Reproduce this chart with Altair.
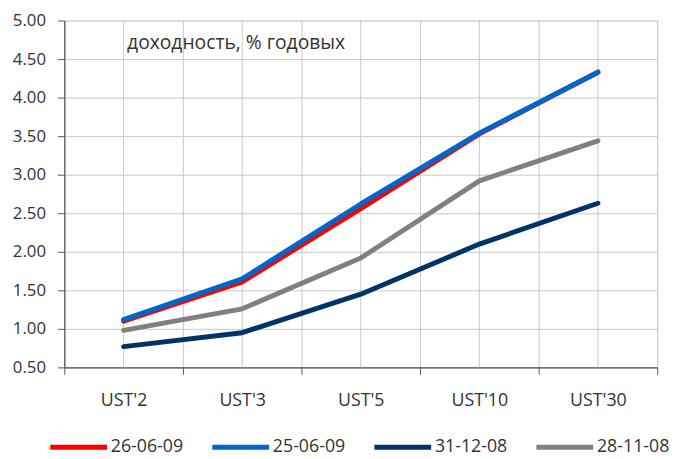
import altair as alt
import pandas as pd

categories = ["UST'2", "UST'3", "UST'5", "UST'10", "UST'30"]
series_names = ["26-06-09", "25-06-09", "31-12-08", "28-11-08"]
s_260609 = [1.10, 1.61, 2.56, 3.53, 4.33]
s_250609 = [1.12, 1.65, 2.62, 3.54, 4.33]
s_311208 = [0.77, 0.95, 1.45, 2.10, 2.63]
s_281108 = [0.98, 1.26, 1.92, 2.92, 3.44]
colors = ["#ff0000", "#0066cc", "#003366", "#808080"]
y_ticks = [0.5, 1.0, 1.5, 2.0, 2.5, 3.0, 3.5, 4.0, 4.5, 5.0]

rows = []
for name, vals in zip(series_names, [s_260609, s_250609, s_311208, s_281108]):
    for i, (c, v) in enumerate(zip(categories, vals)):
        rows.append({"cat": c, "series": name, "value": v, "order": i})
df = pd.DataFrame(rows)
cat_df = pd.DataFrame({"cat": categories})

FONT = "Open Sans"

xscale = alt.Scale(domain=categories, paddingInner=0, paddingOuter=0)
x_axis = alt.Axis(title=None, tickBand="extent", grid=True, gridColor="#c8c8c8",
                  labelAngle=0, labelFontSize=18, labelFont=FONT, labelColor="#333333",
                  labelPadding=18, tickSize=7, tickColor="#555555",
                  domainColor="#555555", domainWidth=1.2)

grid_centers = alt.Chart(cat_df).mark_rule(color="#c8c8c8", strokeWidth=1).encode(
    x=alt.X("cat:N", scale=xscale, sort=categories, axis=x_axis)
)

lines = alt.Chart(df).mark_line(strokeWidth=5, strokeCap="round", strokeJoin="round").encode(
    x=alt.X("cat:N", scale=xscale, sort=categories, axis=x_axis),
    y=alt.Y("value:Q",
            scale=alt.Scale(domain=[0.5, 5.0], nice=False, zero=False),
            axis=alt.Axis(values=y_ticks, format=".2f", grid=True, gridColor="#c8c8c8",
                          labelFontSize=17, labelFont=FONT, labelColor="#333333",
                          labelPadding=12, tickSize=7, tickColor="#555555",
                          domainColor="#555555", domainWidth=1.2,
                          title="доходность, % годовых", titleAngle=0, titleAlign="left",
                          titleBaseline="alphabetic", titleX=63, titleY=28,
                          titleFont=FONT, titleFontSize=19.5, titleFontWeight="normal",
                          titleColor="#333333")),
    color=alt.Color("series:N", sort=series_names,
                    scale=alt.Scale(domain=series_names, range=colors),
                    legend=alt.Legend(title=None, orient="none", direction="horizontal",
                                      legendX=-17, legendY=400, symbolType="stroke",
                                      symbolSize=3300, symbolStrokeWidth=5,
                                      labelFont=FONT, labelFontSize=18, labelColor="#333333",
                                      labelOffset=1, columnPadding=18, padding=0)),
    order="order:Q",
)

chart = alt.layer(grid_centers, lines).properties(
    width=600, height=351,
    padding={"left": 57, "top": 10, "right": 18, "bottom": 90},
    autosize=alt.AutoSizeParams(type="none"),
).configure_view(stroke=None).configure(background="white")

chart.save("out.html", embed_options={"renderer": "svg", "actions": False})
